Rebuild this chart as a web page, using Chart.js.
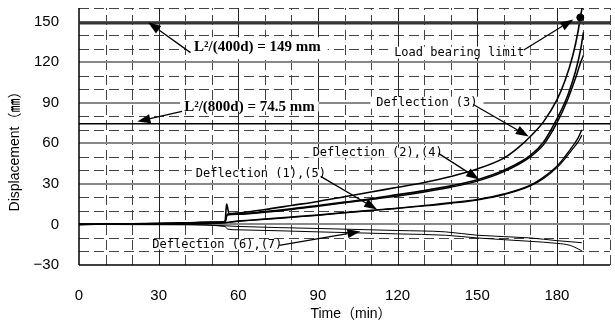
<!DOCTYPE html>
<html>
<head>
<meta charset="utf-8">
<script src="https://cdn.jsdelivr.net/npm/chart.js@4/dist/chart.umd.min.js"></script>
<style>
  html, body { margin: 0; padding: 0; background: #fff; }
  #wrap { width: 615px; height: 327px; }
</style>
</head>
<body>
<div id="wrap"><canvas id="deflection" width="615" height="327"></canvas></div>
<script>
// ---- data ----
var xTicks = [0, 30, 60, 90, 120, 150, 180];
var yTicks = [-30, 0, 30, 60, 90, 120, 150];

var d3Time = [0, 10, 20, 30, 40, 50, 55, 55.6, 56.5, 60, 70, 80, 90, 100, 110, 120, 130, 140, 150, 160, 165, 170, 175, 180, 183, 186, 188, 188.8, 189.6];
var d3Disp = [0, 0.3, 0.5, 0.8, 1.2, 1.8, 2.2, 15, 8, 8.5, 11, 14, 17, 20.5, 24, 27.5, 31, 35.5, 41, 49, 56, 65, 76, 92, 106, 125, 143, 153, 161];

var d2Time = [0, 20, 40, 50, 55, 55.8, 60, 70, 80, 90, 100, 110, 120, 130, 140, 150, 160, 170, 175, 180, 184, 187, 189, 190];
var d2Disp = [0, 0.3, 1, 1.5, 2, 7.5, 8, 9.5, 11.5, 14, 16.5, 19, 22, 25, 28.5, 33, 40, 51, 61, 78, 95, 113, 130, 142];
var d4Disp = [0, 0.2, 0.8, 1.3, 1.8, 7, 7.5, 9, 11, 13.5, 16, 18.5, 21, 24, 27.5, 32, 39, 50, 59, 75, 92, 108, 120, 125];

var d1Time = [0, 20, 40, 50, 55, 60, 70, 80, 90, 100, 110, 120, 130, 140, 150, 160, 170, 175, 180, 183, 186, 188, 189.4];
var d1Disp = [0, 0.2, 0.6, 1, 1.3, 2.5, 4, 5.5, 7, 8.8, 10.5, 12, 14, 16, 18.5, 22.5, 29, 35, 43, 50, 58, 64, 70];
var d5Disp = [0, 0.1, 0.5, 0.9, 1.2, 2.3, 3.7, 5.2, 6.7, 8.5, 10.2, 11.8, 13.6, 15.6, 18, 22, 28.5, 34, 42, 48.5, 56, 61, 66];

var d6Time = [0, 40, 55, 56, 60, 90, 120, 138, 150, 170, 180, 185, 189.4];
var d6Disp = [0, -0.3, -1.5, -3.5, -4, -5.5, -7, -8, -10, -12.5, -14, -15.5, -19.5];
var d7Time = [0, 40, 55, 60, 90, 120, 138, 150, 170, 180, 189.4];
var d7Disp = [0, 0, -1, -1.5, -3, -4.5, -5.5, -8, -10, -12, -13.5];

var limitTime = [0, 200];
var limit400 = [149, 149];
var limit800 = [74.5, 74.5];
var bearingTime = [188.8];
var bearingDisp = [153];

function pts(xs, ys) {
  return xs.map(function (t, i) { return { x: t, y: ys[i] }; });
}

var serifBold = 'bold 15px "Liberation Serif", "Times New Roman", serif';
var mono = '12px "DejaVu Sans Mono", "Liberation Mono", monospace';

// labels with arrows, anchored in data units
var notes = [
  { text: 'L²/(400d) = 149 mm', font: serifBold, t: 43.3, v: 131, from: [42, 127], to: [26, 149.5], pad: [7, 10, 12] },
  { text: 'L²/(800d) = 74.5 mm', font: serifBold, t: 39.6, v: 86.5, from: [38.8, 83.5], to: [22, 76], pad: [4, 6, 4] },
  { text: 'Load bearing limit', font: mono, t: 118.7, v: 127, from: [167.5, 129], to: [186.2, 151.5], pad: [6, 6, 6] },
  { text: 'Deflection (3)', font: mono, t: 112, v: 90, from: [148.5, 88.7], to: [169.4, 65], pad: [6, 6, 6] },
  { text: 'Deflection (2),(4)', font: mono, t: 88, v: 53, from: [135.4, 52.5], to: [150.7, 33.3], pad: [4, 5, 5] },
  { text: 'Deflection (1),(5)', font: mono, t: 44, v: 37, from: [91, 35.5], to: [112.3, 11], pad: [4, 5, 5] },
  { text: 'Deflection (6),(7)', font: mono, t: 27.6, v: -14.8, from: [75.4, -15.5], to: [106, -5.2], pad: [5, 5, 5] }
];

function line(ctx, x1, y1, x2, y2) {
  ctx.beginPath();
  ctx.moveTo(x1, y1);
  ctx.lineTo(x2, y2);
  ctx.stroke();
}

var gridPlugin = {
  id: 'paperGrid',
  beforeDatasetsDraw: function (chart) {
    var ctx = chart.ctx, a = chart.chartArea, x = chart.scales.x, y = chart.scales.y;
    var t, v, p;
    ctx.save();
    // minor dashed grid every 10
    ctx.lineWidth = 1;
    ctx.strokeStyle = '#444';
    ctx.setLineDash([10, 5]);
    for (t = 10; t <= 200; t += 10) {
      if (t % 30 === 0) continue;
      p = Math.round(x.getPixelForValue(t)) + 0.5;
      line(ctx, p, a.bottom, p, a.top);
    }
    for (v = -20; v <= 160; v += 10) {
      if (v % 30 === 0) continue;
      p = Math.round(y.getPixelForValue(v)) + 0.5;
      line(ctx, a.left, p, a.right, p);
    }
    // major solid grid every 30
    ctx.setLineDash([]);
    ctx.strokeStyle = '#222';
    for (t = 30; t <= 180; t += 30) {
      p = Math.round(x.getPixelForValue(t)) + 0.5;
      line(ctx, p, a.top, p, a.bottom);
    }
    ctx.strokeStyle = '#888';
    ctx.lineWidth = 2;
    for (v = 0; v <= 150; v += 30) {
      p = Math.round(y.getPixelForValue(v));
      line(ctx, a.left, p, a.right, p);
    }
    // axes
    ctx.strokeStyle = '#000';
    ctx.lineWidth = 1.5;
    line(ctx, a.left, a.top, a.left, a.bottom);
    line(ctx, a.left, a.bottom, a.right, a.bottom);
    // white boxes behind the labels
    ctx.fillStyle = '#fff';
    notes.forEach(function (n) {
      ctx.font = n.font;
      var w = ctx.measureText(n.text).width;
      var lx = x.getPixelForValue(n.t), cy = y.getPixelForValue(n.v);
      ctx.fillRect(lx - n.pad[0], cy - n.pad[1], w + 2 * n.pad[0], n.pad[1] + n.pad[2]);
    });
    ctx.restore();
  },
  afterDatasetsDraw: function (chart) {
    var ctx = chart.ctx, x = chart.scales.x, y = chart.scales.y;
    ctx.save();
    ctx.fillStyle = '#000';
    ctx.strokeStyle = '#000';
    ctx.lineWidth = 1.3;
    ctx.textBaseline = 'middle';
    ctx.textAlign = 'left';
    notes.forEach(function (n) {
      ctx.font = n.font;
      ctx.fillText(n.text, x.getPixelForValue(n.t), y.getPixelForValue(n.v));
      var x1 = x.getPixelForValue(n.from[0]), y1 = y.getPixelForValue(n.from[1]);
      var x2 = x.getPixelForValue(n.to[0]), y2 = y.getPixelForValue(n.to[1]);
      var ang = Math.atan2(y2 - y1, x2 - x1), len = 13, hw = 4.5;
      var bx = x2 - len * Math.cos(ang), by = y2 - len * Math.sin(ang);
      line(ctx, x1, y1, bx, by);
      ctx.beginPath();
      ctx.moveTo(x2, y2);
      ctx.lineTo(bx - hw * Math.sin(ang), by + hw * Math.cos(ang));
      ctx.lineTo(bx + hw * Math.sin(ang), by - hw * Math.cos(ang));
      ctx.closePath();
      ctx.fill();
    });
    ctx.restore();
  },
  afterDraw: function (chart) {
    var ctx = chart.ctx;
    ctx.save();
    ctx.fillStyle = '#000';
    ctx.font = '14px "Liberation Sans", Arial, "Noto Sans CJK JP", sans-serif';
    ctx.textAlign = 'center';
    ctx.textBaseline = 'middle';
    ctx.fillText('Time（min）', 351, 314);
    ctx.translate(15, 148);
    ctx.rotate(-Math.PI / 2);
    ctx.fillText('Displacement（㎜）', 0, 0);
    ctx.restore();
  }
};

function curve(data, width) {
  return {
    data: data,
    borderColor: '#000',
    borderWidth: width,
    pointRadius: 0,
    cubicInterpolationMode: 'monotone',
    fill: false
  };
}

var chart = new Chart(document.getElementById('deflection'), {
  type: 'line',
  data: {
    datasets: [
      { data: pts(limitTime, limit400), borderColor: '#333', borderWidth: 3, pointRadius: 0 },
      { data: pts(limitTime, limit800), borderColor: '#000', borderWidth: 1.5, pointRadius: 0 },
      curve(pts(d7Time, d7Disp), 1),
      curve(pts(d6Time, d6Disp), 1),
      curve(pts(d1Time, d5Disp), 1.2),
      curve(pts(d1Time, d1Disp), 1.4),
      curve(pts(d2Time, d4Disp), 1.5),
      curve(pts(d2Time, d2Disp), 1.6),
      curve(pts(d3Time, d3Disp), 1.6),
      { data: pts(bearingTime, bearingDisp), showLine: false, pointRadius: 3.5, pointBackgroundColor: '#000', pointBorderColor: '#000' }
    ]
  },
  options: {
    responsive: false,
    animation: false,
    layout: { padding: { top: 8, right: 0, left: 0, bottom: 0 } },
    plugins: { legend: { display: false }, tooltip: { enabled: false } },
    scales: {
      x: {
        type: 'linear',
        min: 0,
        max: 200,
        grid: { display: false },
        border: { display: false },
        afterBuildTicks: function (s) { s.ticks = xTicks.map(function (v) { return { value: v }; }); },
        afterFit: function (s) { s.height = 62; s.paddingLeft = 0; s.paddingRight = 0; },
        ticks: { padding: 14, maxRotation: 0, color: '#000', font: { family: '"Liberation Sans", Arial, sans-serif', size: 15 } }
      },
      y: {
        type: 'linear',
        min: -30,
        max: 160,
        grid: { display: false },
        border: { display: false },
        afterBuildTicks: function (s) { s.ticks = yTicks.map(function (v) { return { value: v }; }); },
        afterFit: function (s) { s.width = 79; s.paddingTop = 0; s.paddingBottom = 0; },
        ticks: {
          padding: 12,
          color: '#000',
          font: { family: '"Liberation Sans", Arial, sans-serif', size: 15 },
          callback: function (v) { return v < 0 ? '\u2212' + Math.abs(v) : String(v); }
        }
      }
    }
  },
  plugins: [gridPlugin]
});
</script>
</body>
</html>
